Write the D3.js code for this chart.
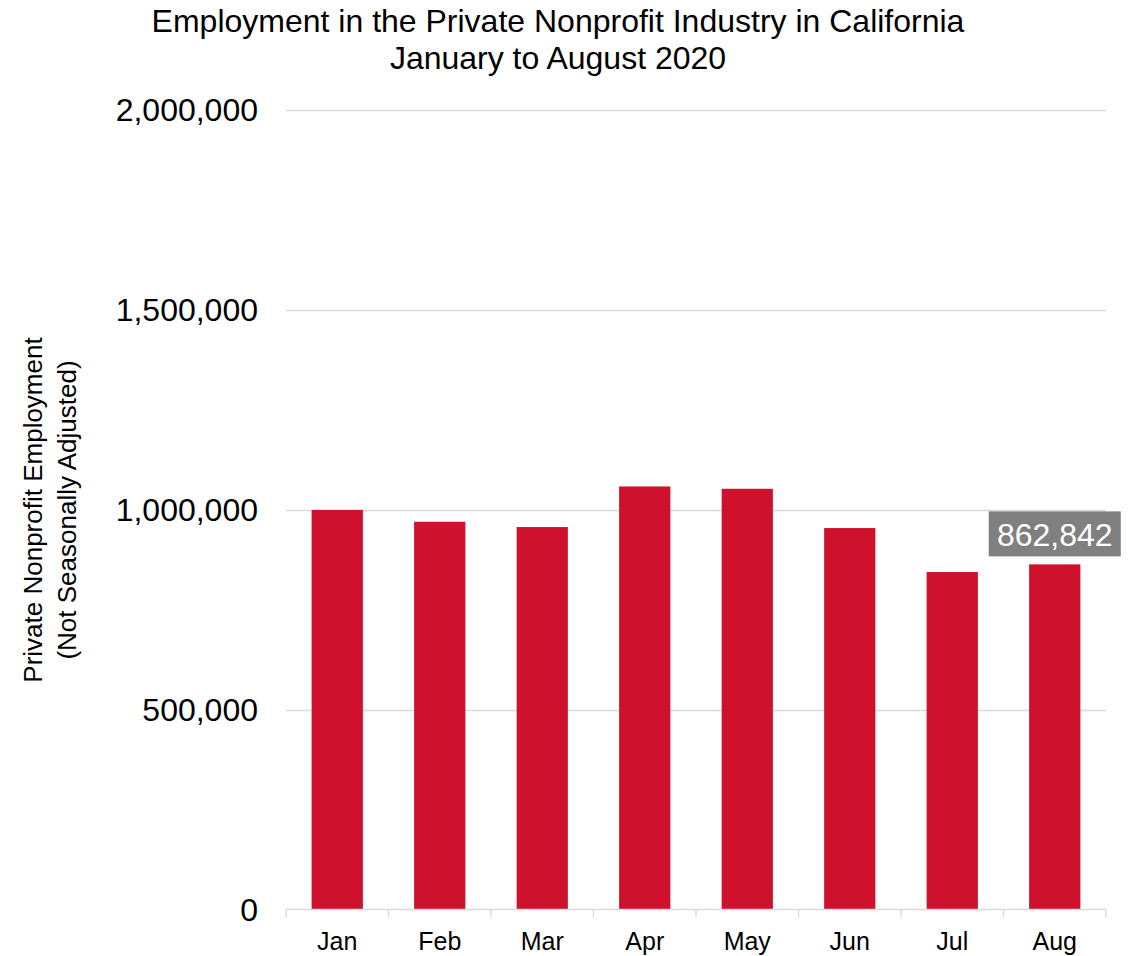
<!DOCTYPE html>
<html><head><meta charset="utf-8">
<script src="https://cdn.jsdelivr.net/npm/d3@7"></script>
<style>body{margin:0;background:#fff;} text{font-family:"Liberation Sans",Arial,sans-serif;}</style>
</head><body>
<svg id="c" width="1135" height="956"></svg>
<script>
const months = ["Jan","Feb","Mar","Apr","May","Jun","Jul","Aug"];
const employment = [999000, 969400, 956100, 1057600, 1051800, 953600, 843700, 862842];
const yTicks = [0, 500000, 1000000, 1500000, 2000000];
const labelIndex = 7;

const svg = d3.select("#c");
const m = {left: 286, right: 1106, top: 109.5, bottom: 909.5};
const x = d3.scaleBand().domain(months).range([m.left, m.right]).paddingInner(0.5).paddingOuter(0.25);
const y = d3.scaleLinear().domain([0, 2000000]).range([m.bottom, m.top]);

// gridlines
svg.append("g").selectAll("line").data(yTicks.slice(1)).join("line")
  .attr("x1", m.left).attr("x2", m.right)
  .attr("y1", d => Math.round(y(d)) + 0.5).attr("y2", d => Math.round(y(d)) + 0.5)
  .attr("stroke", "#d9d9d9").attr("stroke-width", 1.3);

// y labels
svg.append("g").selectAll("text").data(yTicks).join("text")
  .attr("x", 258).attr("y", d => y(d) + 11.5)
  .attr("text-anchor", "end").attr("font-size", 32).attr("fill", "#000")
  .text(d => d3.format(",")(d));

// bars
svg.append("g").selectAll("rect").data(employment).join("rect")
  .attr("x", (d, i) => x(months[i])).attr("width", x.bandwidth())
  .attr("y", d => y(d)).attr("height", d => y(0) - y(d))
  .attr("fill", "#ce112d");

// x axis
const xAxisG = svg.append("g");
xAxisG.append("line").attr("x1", m.left).attr("x2", m.right)
  .attr("y1", m.bottom).attr("y2", m.bottom).attr("stroke", "#d9d9d9").attr("stroke-width", 1.3);
const bounds = d3.range(months.length + 1).map(i => m.left + i * (m.right - m.left) / months.length);
xAxisG.selectAll("line.t").data(bounds).join("line").attr("class", "t")
  .attr("x1", d => d).attr("x2", d => d).attr("y1", m.bottom).attr("y2", m.bottom + 8)
  .attr("stroke", "#d9d9d9").attr("stroke-width", 1.3);
xAxisG.selectAll("text").data(months).join("text")
  .attr("x", d => x(d) + x.bandwidth() / 2).attr("y", 950)
  .attr("text-anchor", "middle").attr("font-size", 25).attr("fill", "#000").text(d => d);

// data label
const lv = employment[labelIndex];
const lx = x(months[labelIndex]) + x.bandwidth() / 2;
svg.append("rect").attr("x", lx - 66).attr("y", y(lv) - 53).attr("width", 132).attr("height", 45).attr("fill", "#808080");
svg.append("text").attr("x", lx).attr("y", y(lv) - 18.5).attr("text-anchor", "middle")
  .attr("font-size", 32).attr("fill", "#fff").text(d3.format(",")(lv));

// title
svg.append("text").attr("x", 558).attr("y", 32).attr("text-anchor", "middle").attr("font-size", 32)
  .text("Employment in the Private Nonprofit Industry in California");
svg.append("text").attr("x", 558).attr("y", 69).attr("text-anchor", "middle").attr("font-size", 32)
  .text("January to August 2020");

// y axis title
const yt = svg.append("text").attr("transform", "translate(42,510) rotate(-90)")
  .attr("text-anchor", "middle").attr("font-size", 26);
yt.append("tspan").attr("x", 0).attr("y", 0).text("Private Nonprofit Employment");
yt.append("tspan").attr("x", 0).attr("y", 34).text("(Not Seasonally Adjusted)");
</script>
</body></html>
